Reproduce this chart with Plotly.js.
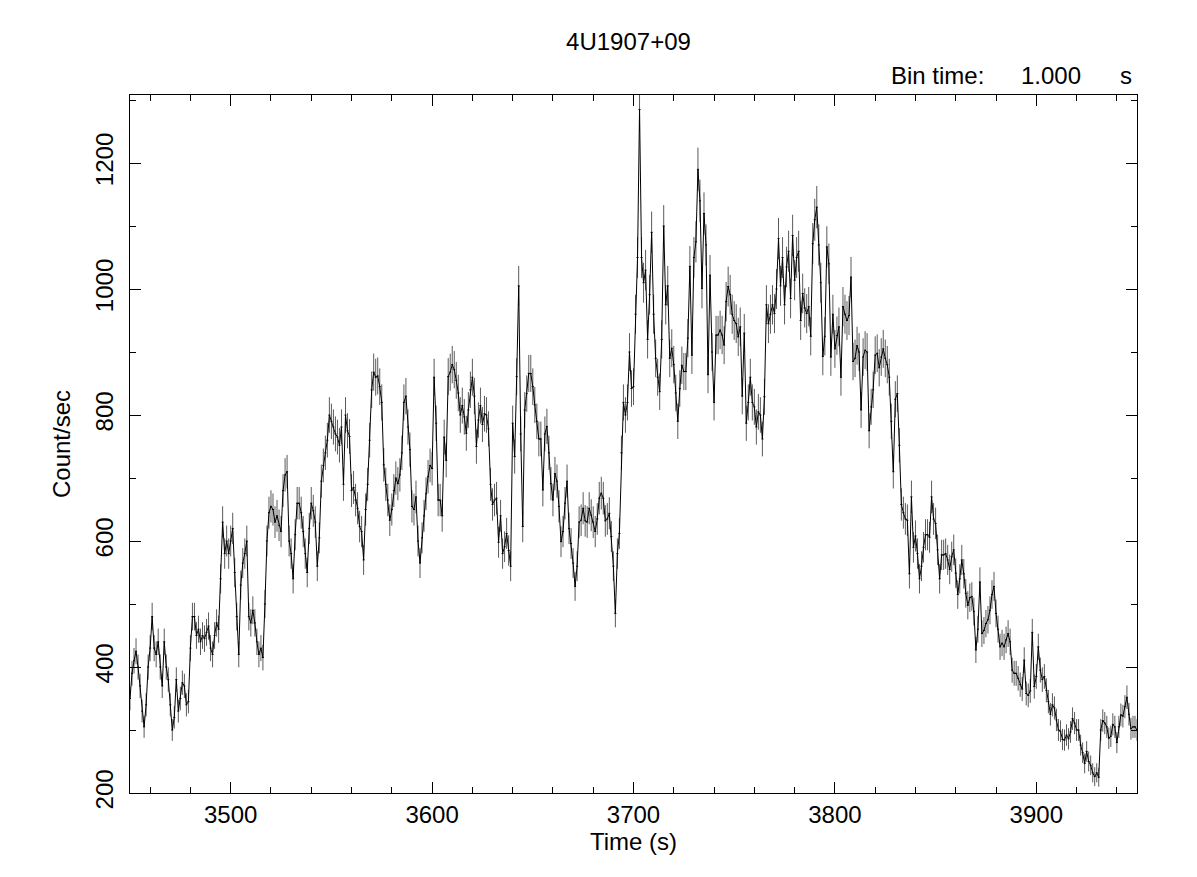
<!DOCTYPE html>
<html>
<head>
<meta charset="utf-8">
<script src="https://cdn.plot.ly/plotly-3.0.1.min.js"></script>
<style>html,body{margin:0;padding:0;background:#fff;}</style>
</head>
<body>
<div id="chart" style="width:1197px;height:877px;"></div>
<script>
// Light curve of 4U1907+09, 1 s bins starting at t = 3450 s
const tStart = 3450;
const binTime = 1;
const rate3450 = [350,390,410,425,400,370,330,305,340,400, 430,480,430,420,440,400,370,440,400,380,
  340,300,320,380,330,350,375,370,340,345, 430,480,480,450,460,440,450,445,455,465,
  430,420,450,470,460,540,630,580,600,580];
const rate3500 = [600,620,550,480,420,530,565,580,600,480, 470,490,470,440,420,430,415,500,600,645,
  655,650,630,640,625,615,680,705,710,600, 580,540,610,660,660,645,615,580,550,620,
  660,648,630,560,605,695,720,740,760,800];
const rate3550 = [790,781,770,765,752,781,690,800,775,766, 680,685,665,652,623,615,570,650,690,760,
  840,868,860,862,845,820,721,690,665,633, 650,680,700,691,705,740,820,830,781,745,
  655,650,670,600,565,605,640,675,702,720];
const rate3600 = [715,860,787,665,665,640,765,728,861,868, 880,872,855,835,800,815,797,771,808,840,
  860,830,750,792,815,785,802,800,778,690, 658,665,668,598,640,580,591,612,585,560,
  787,734,861,1005,770,623,808,834,866,866];
const rate3650 = [845,816,790,762,762,681,770,782,740,691, 665,707,695,655,599,615,660,695,620,596,
  565,528,560,630,633,652,632,630,652,641, 630,615,635,668,676,668,632,635,644,607,
  560,485,580,612,740,820,800,820,900,842];
const rate3700 = [845,960,1050,1285,1050,1010,1030,920,991,1090, 960,890,860,837,920,1100,975,1005,890,906,
  880,835,790,842,879,869,869,922,1036,895, 1050,1075,1190,1140,1001,1120,1070,864,1022,900,
  820,927,927,935,927,911,980,1004,991,960];
const rate3750 = [950,945,924,940,830,930,787,820,860,820, 813,781,805,800,762,829,975,945,960,975,
  961,1000,1080,1005,1050,975,1035,1060,985,1085, 1014,1050,1060,950,993,970,961,972,925,1072,
  1110,1130,1070,1010,893,925,1067,1040,892,960];
const rate3800 = [905,926,940,860,972,960,950,958,1019,885, 890,910,900,808,892,903,900,775,813,840,
  895,898,875,892,905,890,880,860,790,710, 825,834,752,658,645,635,633,548,670,590,
  608,580,540,560,590,610,610,606,670,635];
const rate3850 = [628,586,540,578,578,580,570,555,575,586, 549,515,540,570,548,517,498,510,512,488,
  427,460,535,453,458,469,475,490,515,528, 485,460,432,438,432,443,453,440,395,390,
  390,382,372,365,411,358,355,362,455,369];
const rate3900 = [385,432,395,380,385,363,345,325,340,335, 316,300,298,285,284,292,286,297,318,311,
  300,300,276,264,247,266,250,244,232,226, 232,225,300,315,311,305,287,290,309,305,
  280,305,324,322,337,352,325,302,305,305, 300];

const rate = [].concat(rate3450, rate3500, rate3550, rate3600, rate3650,
                       rate3700, rate3750, rate3800, rate3850, rate3900);

const FONT = 'Liberation Sans, Arial, Helvetica, sans-serif';

const trace = {
  type: 'scatter',
  mode: 'lines',
  x0: tStart,
  dx: binTime,
  y: rate,
  line: {color: '#000', width: 1},
  error_y: {type: 'sqrt', visible: true, color: '#5a5a5a', thickness: 1, width: 0},
  error_x: {type: 'constant', value: 0.5, visible: true, color: '#000', thickness: 1, width: 0},
  hoverinfo: 'x+y'
};

const axisCommon = {
  showline: true, linecolor: '#000', linewidth: 1, mirror: 'ticks',
  ticks: 'inside', ticklen: 11, tickwidth: 1, tickcolor: '#000',
  showgrid: false, zeroline: false,
  tickfont: {family: FONT, size: 24, color: '#000'}
};

const layout = {
  width: 1197, height: 877,
  paper_bgcolor: '#fff', plot_bgcolor: '#fff',
  margin: {l: 130, r: 60, t: 95, b: 84, pad: 0},
  showlegend: false,
  font: {family: FONT, color: '#000', size: 24},
  title: {text: '4U1907+09', font: {family: FONT, size: 24, color: '#000'},
          xref: 'paper', x: 0.495, xanchor: 'center', yref: 'container', y: 1 - 42/877, yanchor: 'middle'},
  xaxis: Object.assign({}, axisCommon, {
    range: [3450, 3950], tick0: 0, dtick: 100,
    minor: {ticks: 'inside', dtick: 20, tick0: 0, ticklen: 6, tickwidth: 1, tickcolor: '#000'},
    ticklabelstandoff: 0,
    title: {text: 'Time (s)', font: {family: FONT, size: 24, color: '#000'}, standoff: 6}
  }),
  yaxis: Object.assign({}, axisCommon, {
    range: [200, 1308], tick0: 0, dtick: 200, tickangle: -90,
    minor: {ticks: 'inside', dtick: 100, tick0: 0, ticklen: 6, tickwidth: 1, tickcolor: '#000'},
    ticklabelstandoff: 6,
    title: {text: 'Count/sec', font: {family: FONT, size: 24, color: '#000'}, standoff: 14}
  }),
  annotations: [
    {text: 'Bin time:', xref: 'paper', yref: 'paper', x: (889-130)/1007, y: (793-75)/698,
     xanchor: 'left', yanchor: 'middle', showarrow: false, font: {family: FONT, size: 24, color: '#000'}},
    {text: '1.000', xref: 'paper', yref: 'paper', x: (1019-130)/1007, y: (793-75)/698,
     xanchor: 'left', yanchor: 'middle', showarrow: false, font: {family: FONT, size: 24, color: '#000'}},
    {text: 's', xref: 'paper', yref: 'paper', x: (1118-130)/1007, y: (793-75)/698,
     xanchor: 'left', yanchor: 'middle', showarrow: false, font: {family: FONT, size: 24, color: '#000'}}
  ]
};

Plotly.newPlot('chart', [trace], layout, {displayModeBar: false, staticPlot: true});
</script>
</body>
</html>
